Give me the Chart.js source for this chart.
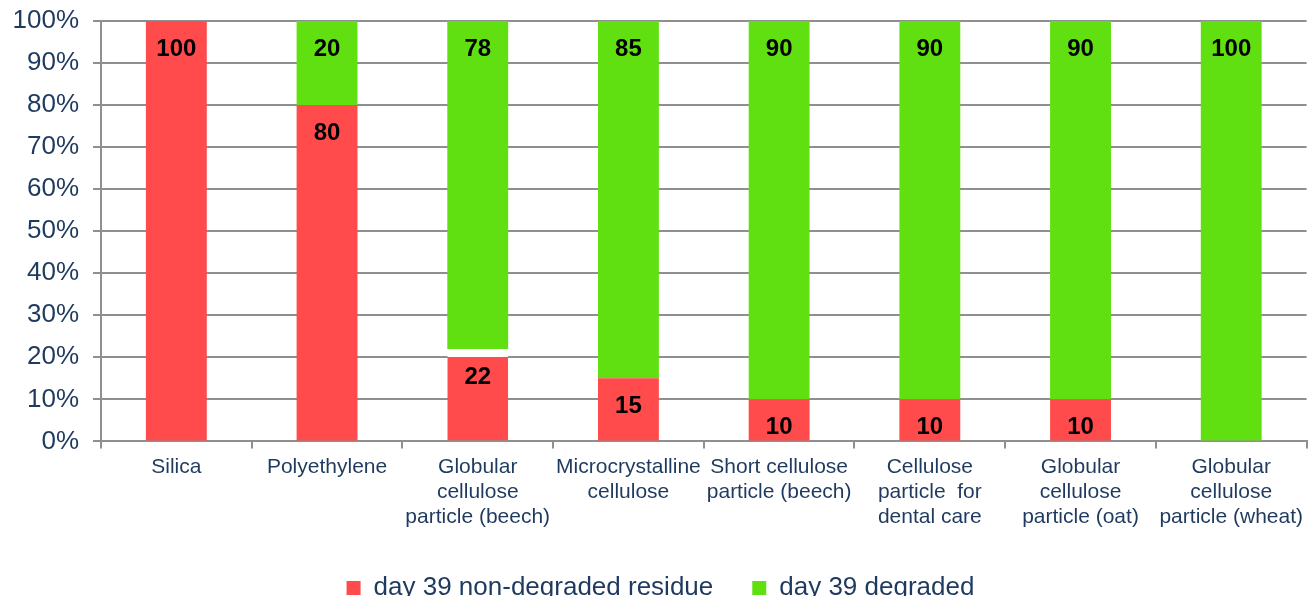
<!DOCTYPE html>
<html>
<head>
<meta charset="utf-8">
<script src="https://cdn.jsdelivr.net/npm/chart.js@4/dist/chart.umd.min.js"></script>
<style>
  html, body { margin: 0; padding: 0; background: #ffffff; overflow: hidden; }
  #wrap { position: absolute; left: 0; top: 0; width: 1309px; height: 611px; }
</style>
</head>
<body>
<div id="wrap"><canvas id="c"></canvas></div>
<script>
// ---- data ----
const categories = [
  ['Silica'],
  ['Polyethylene'],
  ['Globular', 'cellulose', 'particle (beech)'],
  ['Microcrystalline', 'cellulose'],
  ['Short cellulose', 'particle (beech)'],
  ['Cellulose', 'particle  for', 'dental care'],
  ['Globular', 'cellulose', 'particle (oat)'],
  ['Globular', 'cellulose', 'particle (wheat)']
];
const seriesNames = ['day 39 non-degraded residue', 'day 39 degraded'];
const residue  = [100, 80, 22, 15, 10, 10, 10, 0];
const degraded = [0, 20, 78, 85, 90, 90, 90, 100];
const yTicks = [0, 10, 20, 30, 40, 50, 60, 70, 80, 90, 100];

// ---- styles ----
const RED = '#FF4B4B';
const GREEN = '#61E011';
const NAVY = '#1F3A5F';
const GRID = '#8F8F8F';
const FONT = "'Liberation Sans', Arial, sans-serif";
// white strip drawn at the top of the residue bar of the third category
const residueTopStrip = [0, 0, 8, 0, 0, 0, 0, 0];

const valueLabels = {
  id: 'valueLabels',
  afterDatasetsDraw(chart) {
    const ctx = chart.ctx;
    ctx.save();
    ctx.font = 'bold 24px ' + FONT;
    ctx.fillStyle = '#000000';
    ctx.textAlign = 'center';
    ctx.textBaseline = 'middle';
    chart.data.datasets.forEach((ds, di) => {
      const meta = chart.getDatasetMeta(di);
      meta.data.forEach((bar, i) => {
        const v = ds.data[i];
        if (!v) return;
        ctx.fillText(String(v), bar.x, bar.y + 28);
      });
    });
    ctx.restore();
  }
};

new Chart(document.getElementById('c'), {
  type: 'bar',
  data: {
    labels: categories,
    datasets: [
      {
        label: seriesNames[0],
        data: residue,
        backgroundColor: RED,
        borderColor: '#ffffff',
        borderSkipped: 'start',
        borderWidth: (c) => ({ top: residueTopStrip[c.dataIndex] || 0, left: 0, right: 0, bottom: 0 }),
        inflateAmount: 0,
        barPercentage: 0.8,
        categoryPercentage: 0.505
      },
      {
        label: seriesNames[1],
        data: degraded,
        backgroundColor: GREEN,
        borderWidth: 0,
        inflateAmount: 0,
        barPercentage: 0.8,
        categoryPercentage: 0.505
      }
    ]
  },
  options: {
    responsive: true,
    maintainAspectRatio: false,
    animation: false,
    devicePixelRatio: 1,
    layout: { padding: { left: 12, right: 0, top: 21, bottom: 0 } },
    scales: {
      x: {
        stacked: true,
        grid: { display: true, drawOnChartArea: false, drawTicks: true, tickLength: 7, color: GRID, lineWidth: 2, offset: true },
        border: { display: true, color: GRID, width: 2 },
        ticks: {
          autoSkip: false, maxRotation: 0, minRotation: 0, padding: 6,
          color: NAVY, font: { family: FONT, size: 21, lineHeight: 1.2 }
        }
      },
      y: {
        stacked: true,
        min: 0, max: 100,
        afterBuildTicks: (axis) => { axis.ticks = yTicks.map(v => ({ value: v })); },
        afterFit: (s) => { s.width = 89; s.paddingTop = 0; s.paddingBottom = 0; },
        grid: { color: GRID, lineWidth: 2, tickLength: 8, drawTicks: true },
        border: { display: true, color: GRID, width: 2 },
        ticks: {
          padding: 14,
          color: NAVY,
          font: { family: FONT, size: 26 },
          callback: (v) => v + '%'
        }
      }
    },
    plugins: {
      legend: {
        position: 'bottom',
        labels: {
          boxWidth: 14, boxHeight: 14, padding: 39,
          color: NAVY, font: { family: FONT, size: 26 }
        }
      },
      tooltip: { enabled: false }
    }
  },
  plugins: [valueLabels]
});
</script>
</body>
</html>
